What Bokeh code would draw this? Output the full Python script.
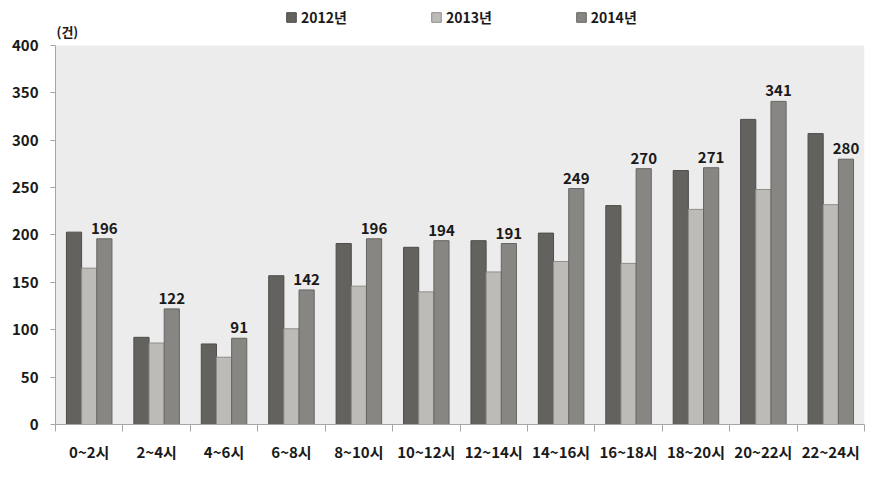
from bokeh.plotting import figure
from bokeh.models import (ColumnDataSource, Range1d, FixedTicker, Legend, LegendItem, Label, BoxAnnotation)
from bokeh.core.properties import value
from bokeh.embed import file_html
from bokeh.resources import INLINE

categories = ["0~2시", "2~4시", "4~6시", "6~8시", "8~10시", "10~12시",
              "12~14시", "14~16시", "16~18시", "18~20시", "20~22시", "22~24시"]
y2012 = [203, 92, 85, 157, 191, 187, 194, 202, 231, 268, 322, 307]
y2013 = [165, 86, 71, 101, 146, 140, 161, 172, 170, 227, 248, 232]
y2014 = [196, 122, 91, 142, 196, 194, 191, 249, 270, 271, 341, 280]
series_names = ["2012년", "2013년", "2014년"]
y_ticks = [0, 50, 100, 150, 200, 250, 300, 350, 400]

FONT = "Noto Sans CJK KR"
fills = ["#63625e", "#bcbbb7", "#878682"]
lines = ["#4e4d4a", "#8f8e8a", "#666562"]

n = len(categories)
centers = [i + 0.5 for i in range(n)]
bw = 0.225
offsets = [-bw, 0.0, bw]
YMAX = 400
y_top = 442.2

p = figure(width=876, height=486, output_backend="svg", toolbar_location=None,
           x_range=Range1d(0, n), y_range=Range1d(0, y_top),
           min_border_left=55, min_border_right=12, min_border_top=5, min_border_bottom=62)
p.background_fill_color = "white"
p.border_fill_color = "white"
p.outline_line_color = None
p.xgrid.visible = False
p.ygrid.visible = False

p.add_layout(BoxAnnotation(left=0, right=n, bottom=0, top=YMAX,
                           fill_color="#ececec", fill_alpha=1, line_alpha=0, level="underlay"))

renderers = []
for vals, off, fc, lc in zip([y2012, y2013, y2014], offsets, fills, lines):
    src = ColumnDataSource(dict(x=[c + off for c in centers], top=vals))
    r = p.vbar(x="x", top="top", width=bw, bottom=0, source=src,
               fill_color=fc, line_color=lc, line_width=1)
    renderers.append(r)

lab_src = ColumnDataSource(dict(x=[c + bw for c in centers], y=y2014,
                                t=[str(v) for v in y2014]))
p.text(x="x", y="y", text="t", source=lab_src, text_align="center",
       text_baseline="bottom", y_offset=-5, text_font=value(FONT),
       text_font_style="bold", text_font_size="15px", text_color="#1a1a1a")

# x axis
xa = p.xaxis[0]
xa.ticker = FixedTicker(ticks=centers, minor_ticks=list(range(n + 1)))
xa.major_label_overrides = {c: lab for c, lab in zip(centers, categories)}
xa.major_tick_out = 0
xa.major_tick_in = 0
xa.minor_tick_out = 7
xa.minor_tick_in = 0
xa.minor_tick_line_color = "#a6a6a6"
xa.axis_line_color = "#a6a6a6"
xa.major_label_standoff = 9
xa.major_label_text_font = FONT
xa.major_label_text_font_style = "bold"
xa.major_label_text_font_size = "15px"
xa.major_label_text_color = "#1a1a1a"

ya = p.yaxis[0]
ya.bounds = (0, YMAX)
ya.ticker = FixedTicker(ticks=y_ticks)
ya.major_tick_out = 5
ya.major_tick_in = 0
ya.minor_tick_out = 0
ya.minor_tick_in = 0
ya.major_tick_line_color = "#a6a6a6"
ya.axis_line_color = "#a6a6a6"
ya.major_label_standoff = 12
ya.major_label_text_font = FONT
ya.major_label_text_font_style = "bold"
ya.major_label_text_font_size = "15px"
ya.major_label_text_color = "#1a1a1a"

p.add_layout(Label(x=0, y=415, x_offset=1, text="(건)", text_font=FONT, text_font_size="13px",
                   text_font_style="bold", text_baseline="middle", text_color="#1a1a1a"))

legend = Legend(items=[LegendItem(label=nm, renderers=[r]) for nm, r in zip(series_names, renderers)],
                orientation="horizontal", location=(230, 397),
                glyph_width=12, glyph_height=12, label_standoff=4, spacing=83,
                padding=0, margin=0, border_line_alpha=0, background_fill_alpha=0,
                label_text_font=FONT, label_text_font_style="bold",
                label_text_font_size="14px", label_text_color="#1a1a1a")
p.add_layout(legend)

open("out.html", "w").write(file_html(p, INLINE))
